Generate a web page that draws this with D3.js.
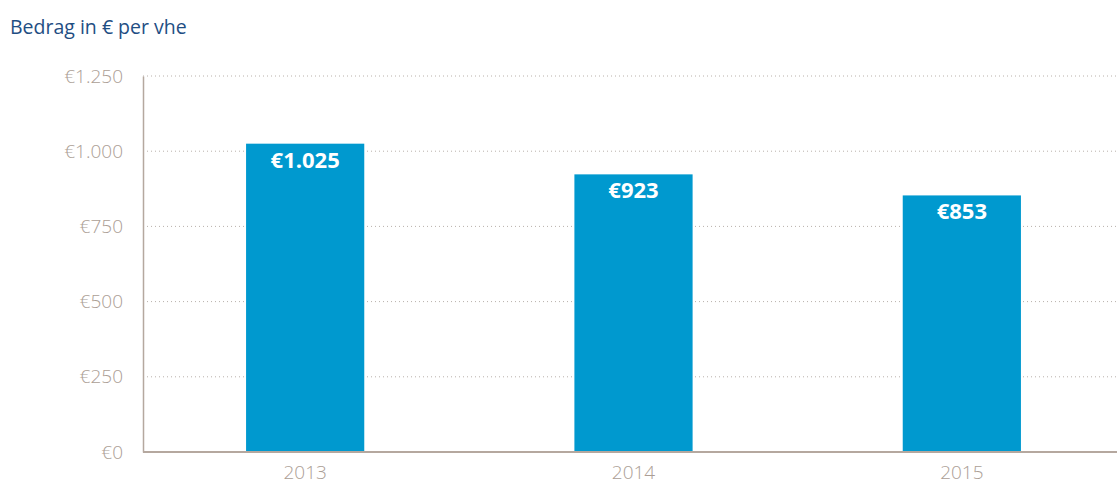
<!DOCTYPE html>
<html>
<head>
<meta charset="utf-8">
<script src="https://cdn.jsdelivr.net/npm/d3@7"></script>
<style>
  body { margin: 0; background: #fff; }
  svg { display: block; font-family: "Open Sans", sans-serif; }
</style>
</head>
<body>
<div id="chart"></div>
<script>
// data
const years = ["2013", "2014", "2015"];
const amounts = [1025, 923, 853];
const yTicks = [0, 250, 500, 750, 1000, 1250];

const width = 1117, height = 487;
const margin = { top: 76, right: 0, bottom: 35, left: 143 };

const fmt = v => "€" + d3.format(",")(v).replace(/,/g, ".");

const svg = d3.select("#chart").append("svg")
  .attr("width", width)
  .attr("height", height);

svg.append("text")
  .attr("x", 10)
  .attr("y", 34)
  .attr("fill", "#1f4e83")
  .style("font-size", "19.5px")
  .text("Bedrag in € per vhe");

const x = d3.scaleBand()
  .domain(years)
  .range([141, 1126])
  .paddingInner(0.64)
  .paddingOuter(0.32);

const y = d3.scaleLinear()
  .domain([0, 1250])
  .range([height - margin.bottom, margin.top]);

// grid
svg.append("g")
  .selectAll("line")
  .data(yTicks.filter(d => d > 0))
  .enter().append("line")
    .attr("x1", margin.left)
    .attr("x2", width)
    .attr("y1", d => y(d))
    .attr("y2", d => y(d))
    .attr("stroke", "#b8b0aa")
    .attr("stroke-width", 1)
    .attr("stroke-dasharray", "1,3");

// y axis labels
const yAxis = svg.append("g")
  .attr("transform", `translate(${margin.left},0)`)
  .call(d3.axisLeft(y).tickValues(yTicks).tickFormat(fmt).tickSize(0).tickPadding(20));
yAxis.select(".domain").attr("stroke", "#b5a89f").attr("stroke-width", 1.5);
yAxis.selectAll("text")
  .attr("fill", "#ab9e95")
  .style("font-size", "19px")
  .style("font-weight", "300")
  .style("font-family", "Open Sans, sans-serif");

// bars
svg.append("g")
  .selectAll("rect")
  .data(amounts)
  .enter().append("rect")
    .attr("x", (d, i) => x(years[i]))
    .attr("y", d => y(d))
    .attr("width", x.bandwidth())
    .attr("height", d => y(0) - y(d))
    .attr("fill", "#0099cf");

svg.append("g")
  .selectAll("text")
  .data(amounts)
  .enter().append("text")
    .attr("x", (d, i) => x(years[i]) + x.bandwidth() / 2)
    .attr("y", d => y(d) + 24)
    .attr("text-anchor", "middle")
    .attr("fill", "#fff")
    .style("font-size", "22px")
    .style("font-weight", "bold")
    .text(fmt);

// x axis
const xAxis = svg.append("g")
  .attr("transform", `translate(0,${y(0)})`)
  .call(d3.axisBottom(x).tickSize(0).tickPadding(14));
xAxis.select(".domain").remove();
xAxis.append("line")
  .attr("x1", margin.left)
  .attr("x2", width)
  .attr("stroke", "#b5a89f")
  .attr("stroke-width", 2);
xAxis.selectAll("text")
  .attr("fill", "#ab9e95")
  .style("font-size", "19px")
  .style("font-weight", "300")
  .style("font-family", "Open Sans, sans-serif");
</script>
</body>
</html>
